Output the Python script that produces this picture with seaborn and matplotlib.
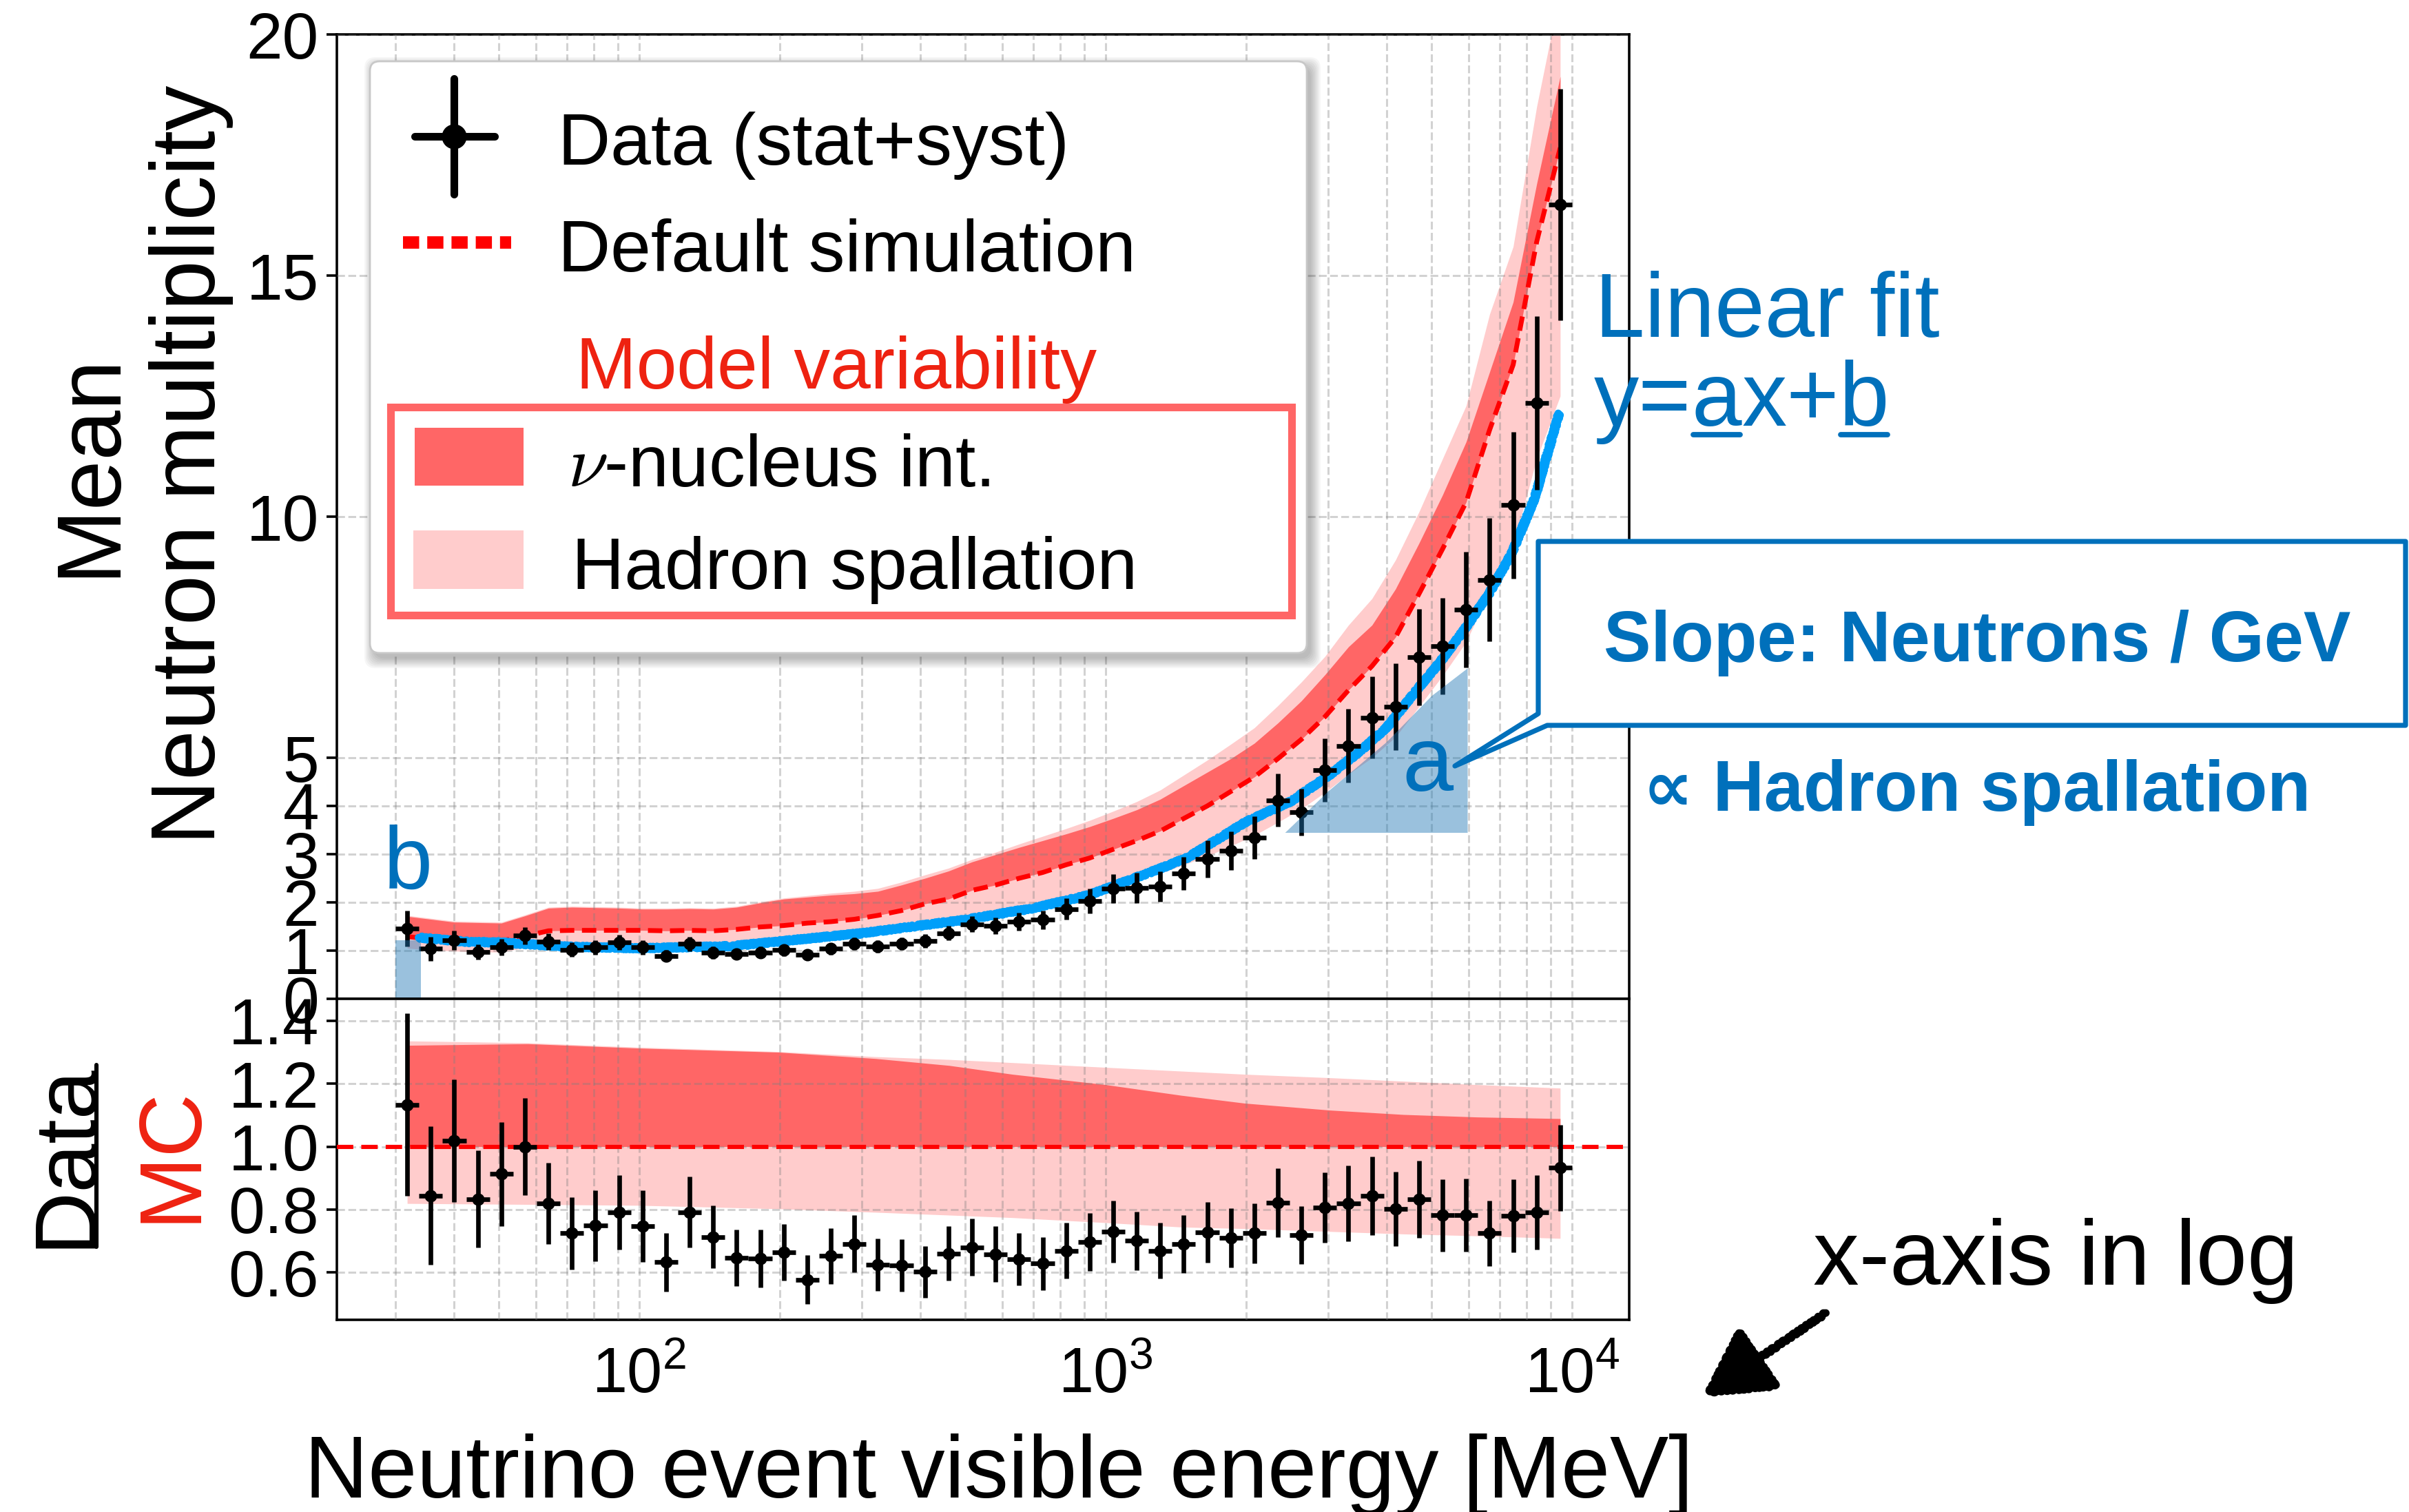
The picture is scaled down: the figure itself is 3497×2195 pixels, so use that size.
import matplotlib
matplotlib.use("Agg")
import matplotlib.pyplot as plt
import numpy as np
import seaborn as sns
from matplotlib.transforms import Affine2D
from matplotlib.patches import Rectangle, FancyBboxPatch, Polygon, FancyArrowPatch
from matplotlib.lines import Line2D
from matplotlib.ticker import FormatStrFormatter

# ---------------- data ----------------
bin_edges = [30.0, 33.70, 37.85, 42.52, 47.76, 53.65, 60.26, 67.69, 76.03, 85.40,
             95.93, 107.7, 121.0, 135.9, 152.6, 171.4, 192.6, 216.3, 242.9, 272.9,
             306.5, 344.3, 386.7, 434.4, 487.9, 548.0, 615.6, 691.4, 776.6, 872.0,
             979.2, 1100, 1236, 1388, 1559, 1751, 1966, 2209, 2481, 2786,
             3130, 3515, 3948, 4435, 4981, 5595, 6284, 7058, 7928, 8904, 10000]

data_mean = [1.46, 1.04, 1.22, 0.97, 1.07, 1.31, 1.19, 1.02, 1.07, 1.17,
             1.07, 0.89, 1.14, 0.96, 0.93, 0.96, 1.01, 0.91, 1.04, 1.14,
             1.09, 1.14, 1.20, 1.36, 1.55, 1.52, 1.60, 1.64, 1.86, 2.03,
             2.29, 2.30, 2.33, 2.60, 2.90, 3.07, 3.34, 4.12, 3.87, 4.74,
             5.25, 5.83, 6.06, 7.09, 7.31, 8.07, 8.69, 10.24, 12.36, 16.47]
data_err = [0.37, 0.25, 0.20, 0.16, 0.17, 0.18, 0.17, 0.15, 0.15, 0.16,
            0.15, 0.12, 0.15, 0.13, 0.12, 0.12, 0.12, 0.11, 0.12, 0.13,
            0.13, 0.13, 0.14, 0.15, 0.16, 0.17, 0.19, 0.19, 0.22, 0.26,
            0.30, 0.31, 0.32, 0.34, 0.38, 0.40, 0.44, 0.55, 0.49, 0.66,
            0.77, 0.85, 0.90, 1.00, 1.00, 1.20, 1.28, 1.52, 1.80, 2.40]

default_sim = [1.29, 1.24, 1.22, 1.19, 1.20, 1.30, 1.41, 1.42, 1.42, 1.42,
               1.42, 1.41, 1.42, 1.41, 1.44, 1.49, 1.52, 1.57, 1.60, 1.65,
               1.73, 1.83, 1.97, 2.07, 2.25, 2.36, 2.50, 2.62, 2.78, 2.92,
               3.10, 3.28, 3.48, 3.74, 4.00, 4.30, 4.60, 4.98, 5.38, 5.85,
               6.40, 6.90, 7.50, 8.40, 9.33, 10.30, 11.80, 13.15, 15.70, 17.65]
nu_upper = [1.71, 1.65, 1.59, 1.58, 1.57, 1.72, 1.88, 1.90, 1.89, 1.88,
            1.86, 1.86, 1.87, 1.86, 1.90, 1.99, 2.07, 2.11, 2.15, 2.18,
            2.23, 2.36, 2.50, 2.65, 2.84, 2.99, 3.14, 3.28, 3.42, 3.57,
            3.74, 3.92, 4.14, 4.42, 4.70, 4.98, 5.30, 5.72, 6.18, 6.72,
            7.30, 7.75, 8.50, 9.45, 10.45, 11.55, 13.00, 14.45, 16.90, 19.13]
spall_upper = [1.73, 1.67, 1.61, 1.60, 1.59, 1.74, 1.90, 1.92, 1.91, 1.90,
               1.88, 1.88, 1.89, 1.88, 1.92, 2.01, 2.09, 2.14, 2.19, 2.23,
               2.29, 2.42, 2.57, 2.71, 2.89, 3.04, 3.21, 3.37, 3.53, 3.70,
               3.89, 4.09, 4.33, 4.64, 4.95, 5.28, 5.62, 6.08, 6.57, 7.10,
               7.75, 8.30, 9.10, 10.10, 11.20, 12.30, 14.20, 15.60, 18.50, 20.90]
spall_lower = [1.05, 1.01, 0.99, 0.97, 0.97, 1.06, 1.14, 1.15, 1.15, 1.15,
               1.15, 1.14, 1.15, 1.14, 1.16, 1.19, 1.22, 1.26, 1.28, 1.31,
               1.37, 1.44, 1.54, 1.61, 1.74, 1.81, 1.91, 2.00, 2.11, 2.21,
               2.34, 2.46, 2.60, 2.78, 2.96, 3.17, 3.39, 3.66, 3.94, 4.28,
               4.66, 5.00, 5.43, 6.06, 6.70, 7.40, 8.45, 9.40, 11.20, 12.50]

ratio = [1.133, 0.844, 1.018, 0.833, 0.913, 1.0, 0.819, 0.724, 0.749, 0.791,
         0.747, 0.632, 0.791, 0.713, 0.647, 0.644, 0.663, 0.577, 0.652, 0.691,
         0.624, 0.622, 0.602, 0.66, 0.68, 0.658, 0.641, 0.628, 0.669, 0.697,
         0.73, 0.70, 0.669, 0.691, 0.727, 0.71, 0.724, 0.822, 0.719, 0.806,
         0.819, 0.844, 0.802, 0.833, 0.782, 0.782, 0.724, 0.78, 0.791, 0.933]
ratio_err = [0.29, 0.22, 0.195, 0.155, 0.165, 0.155, 0.13, 0.115, 0.113, 0.118,
             0.113, 0.093, 0.113, 0.10, 0.09, 0.091, 0.09, 0.077, 0.089, 0.09,
             0.084, 0.083, 0.082, 0.087, 0.09, 0.089, 0.083, 0.085, 0.088, 0.092,
             0.099, 0.094, 0.088, 0.092, 0.096, 0.094, 0.096, 0.11, 0.092, 0.112,
             0.12, 0.125, 0.119, 0.123, 0.115, 0.117, 0.104, 0.117, 0.119, 0.137]

ratio_band_energy = [31.8, 57.7, 100, 200, 321, 462, 631, 1000, 1453, 1987, 3020, 4346, 6255, 9434]
ratio_nu_upper = [1.322, 1.327, 1.313, 1.300, 1.280, 1.258, 1.230, 1.197, 1.163, 1.138, 1.116, 1.102, 1.094, 1.089]
ratio_spall_upper = [1.336, 1.330, 1.316, 1.302, 1.286, 1.277, 1.267, 1.252, 1.240, 1.230, 1.219, 1.208, 1.197, 1.186]
ratio_spall_lower = [0.819, 0.816, 0.813, 0.802, 0.791, 0.782, 0.774, 0.758, 0.744, 0.739, 0.730, 0.722, 0.716, 0.708]

fit_energy = [33.6, 43, 50, 71, 100, 157, 300, 500, 700, 920, 1300, 1500, 2000, 2500,
              3000, 3500, 4000, 4652, 5240, 5890, 6610, 7420, 8320, 8760, 9380]
fit_value = [1.27, 1.18, 1.17, 1.08, 1.05, 1.09, 1.36, 1.64, 1.88, 2.15, 2.69, 2.93, 3.67, 4.10,
             4.62, 5.12, 5.62, 6.41, 7.01, 7.67, 8.37, 9.23, 10.38, 11.14, 12.14]

slope_fill_energy = [2423, 3000, 4000, 5000, 5965]
slope_fill_top = [3.45, 4.31, 5.33, 6.29, 6.86]
slope_fill_base = 3.45
intercept_fill_energy = [30.0, 34.0]
intercept_fill_height = 1.21

main_yticks = [0, 1, 2, 3, 4, 5, 10, 15, 20]
ratio_yticks = [0.6, 0.8, 1.0, 1.2, 1.4]

# ---------------- style ----------------
W, H, DPI = 3498, 2195, 200
sns.set_theme(style="white")
plt.rcParams["font.family"] = ["Liberation Sans", "DejaVu Sans"]
for key in ["axes.edgecolor", "text.color", "axes.labelcolor", "xtick.color", "ytick.color"]:
    plt.rcParams[key] = "black"

DARK = "#FF6666"
LIGHT = "#FFCCCC"
ANN = "#0070BB"
FITC = "#009FFA"
MCRED = "#EE2211"

fig = plt.figure(figsize=(W / DPI, H / DPI), dpi=DPI)
PX = Affine2D().scale(1 / DPI, -1 / DPI).translate(0, H / DPI) + fig.dpi_scale_trans

ax = fig.add_axes([489 / W, 1 - 1450 / H, 1876 / W, 1400 / H])
axr = fig.add_axes([489 / W, 1 - 1916 / H, 1876 / W, 466 / H], sharex=ax)

edges = np.array(bin_edges)
centers = np.sqrt(edges[:-1] * edges[1:])
xerr = [centers - edges[:-1], edges[1:] - centers]

# ---------------- main panel ----------------
ax.fill_between(centers, spall_lower, spall_upper, color=LIGHT, lw=0, zorder=1)
ax.fill_between(centers, default_sim, nu_upper, color=DARK, lw=0, zorder=1.1)
sns.lineplot(x=centers, y=default_sim, ax=ax, color="red", lw=2.5, zorder=3,
             sort=False, estimator=None)
ax.lines[-1].set_dashes((3.0, 1.6))
ax.errorbar(centers, data_mean, yerr=data_err, xerr=xerr, fmt="o", color="black",
            ms=5.5, elinewidth=2.4, capsize=0, zorder=4)
sns.lineplot(x=fit_energy, y=fit_value, ax=ax, color=FITC, lw=3.8, zorder=3.6,
             sort=False, estimator=None)
ax.lines[-1].set_sketch_params(2.5, 6, 3)
sns.lineplot(x=fit_energy, y=fit_value, ax=ax, color=FITC, lw=1.8, zorder=3.7,
             sort=False, estimator=None)
ax.lines[-1].set_sketch_params(5.0, 4, 2)
ax.fill_between(slope_fill_energy, slope_fill_base, slope_fill_top, color="#1f77b4",
                alpha=0.45, lw=0, zorder=4.5)
ax.fill_between(intercept_fill_energy, 0, intercept_fill_height, color="#1f77b4",
                alpha=0.45, lw=0, zorder=4.5)

# ---------------- ratio panel ----------------
axr.fill_between(ratio_band_energy, ratio_spall_lower, ratio_spall_upper, color=LIGHT, lw=0, zorder=1)
axr.fill_between(ratio_band_energy, 1.0, ratio_nu_upper, color=DARK, lw=0, zorder=1.1)
ref = axr.axhline(1.0, color="red", lw=2.2, zorder=3)
ref.set_dashes((3.9, 1.9))
axr.errorbar(centers, ratio, yerr=ratio_err, xerr=xerr, fmt="o", color="black",
             ms=5.5, elinewidth=2.4, capsize=0, zorder=4)

# ---------------- axes cosmetics ----------------
ax.set_xscale("log")
ax.set_xlim(22.47, 13265)
ax.set_ylim(0, 20)
ax.set_yticks(main_yticks)
axr.set_ylim(0.449, 1.470)
axr.set_yticks(ratio_yticks)
axr.yaxis.set_major_formatter(FormatStrFormatter("%.1f"))

for a in (ax, axr):
    a.set_axisbelow(False)
    a.grid(True, which="both", axis="x", color="gray", alpha=0.35, ls="--", lw=1.1)
    a.grid(True, which="major", axis="y", color="gray", alpha=0.35, ls="--", lw=1.1)
    for s in a.spines.values():
        s.set_color("black")
        s.set_linewidth(1.3)
        s.set_visible(True)
    a.tick_params(axis="y", which="major", direction="out", length=5.4, width=1.3,
                  labelsize=34, pad=4, left=True, color="black", labelcolor="black")
    a.tick_params(axis="x", which="both", length=0, labelcolor="black")
ax.tick_params(axis="x", which="both", labelbottom=False)
axr.tick_params(axis="x", which="major", labelsize=33, pad=14)

ax.set_ylabel("Mean\nNeutron multiplicity", fontsize=47, linespacing=1.25, color="black")
ax.yaxis.set_label_coords(-0.080, 0.554)
axr.set_xlabel("Neutrino event visible energy [MeV]", fontsize=46, color="black")
axr.xaxis.set_label_coords(0.512, -0.355)

# ratio y label: Data / MC
fig.text(130, 1677, "Data", transform=PX, rotation=90, rotation_mode="anchor",
         ha="center", va="baseline", fontsize=46, color="black")
fig.add_artist(Line2D([140, 140], [1546, 1810], transform=PX, color="black", lw=2.2))
fig.text(283, 1676, "MC", transform=PX, rotation=90, rotation_mode="anchor",
         ha="center", va="baseline", fontsize=46, color=MCRED)

# ---------------- legend (custom) ----------------
for k in range(8):
    e = 2 * k
    fig.add_artist(FancyBboxPatch((543 - e, 97 - e), 1360 + 2 * e, 859 + 2 * e,
                                  boxstyle="round,pad=0,rounding_size=16", transform=PX,
                                  facecolor="black", alpha=0.035, lw=0, zorder=9))
fig.add_artist(FancyBboxPatch((537, 89), 1360, 859, boxstyle="round,pad=0,rounding_size=14",
                              transform=PX, facecolor="white", edgecolor="#c8c8c8", lw=1.0, zorder=10))
fig.add_artist(Rectangle((567, 591), 1308, 302, transform=PX, fill=False,
                         edgecolor=DARK, lw=4, zorder=11))
fig.add_artist(Line2D([659, 659], [114, 282], transform=PX, color="black", lw=4, zorder=11))
fig.add_artist(Line2D([602, 718], [198, 198], transform=PX, color="black", lw=4, zorder=11))
fig.add_artist(Line2D([659], [198], transform=PX, color="black", marker="o", ms=12, lw=0, zorder=11))
leg_line = Line2D([585, 742], [352, 352], transform=PX, color="red", lw=6.5, zorder=11)
leg_line.set_dashes((1.3, 0.65))
fig.add_artist(leg_line)
fig.add_artist(Rectangle((602, 621), 158, 84, transform=PX, facecolor=DARK, lw=0, zorder=11))
fig.add_artist(Rectangle((600, 770), 160, 85, transform=PX, facecolor=LIGHT, lw=0, zorder=11))
lt = dict(transform=PX, ha="left", va="baseline", fontsize=38, zorder=12)
fig.text(810, 239, "Data (stat+syst)", color="black", **lt)
fig.text(810, 394, "Default simulation", color="black", **lt)
fig.text(836, 564, "Model variability", color=MCRED, **lt)
fig.text(824, 706, r"$\nu$-nucleus int.", color="black", math_fontfamily="cm", **lt)
fig.text(830, 855, "Hadron spallation", color="black", **lt)

# ---------------- annotations ----------------
fig.text(2315, 489, "Linear fit", transform=PX, ha="left", va="baseline", fontsize=47, color=ANN, zorder=12)
renderer = fig.canvas.get_renderer()
xpos = 2314
for seg, ul in [("y=", False), ("a", True), ("x+", False), ("b", True)]:
    t = fig.text(xpos, 618, seg, transform=PX, ha="left", va="baseline", fontsize=47, color=ANN, zorder=12)
    w = t.get_window_extent(renderer=renderer).width
    if ul:
        fig.add_artist(Line2D([xpos + 2, xpos + w - 2], [631, 631], transform=PX, color=ANN, lw=2.8, zorder=12))
    xpos += w

callout = Polygon([(2233, 786), (3492, 786), (3492, 1053), (2246, 1053), (2112, 1112), (2233, 1036)],
                  closed=True, transform=PX, facecolor="white", edgecolor=ANN, lw=2.6,
                  joinstyle="round", zorder=12)
fig.add_artist(callout)
fig.text(2870, 960, "Slope: Neutrons / GeV", transform=PX, ha="center", va="baseline",
         fontsize=37, fontweight="bold", color=ANN, zorder=13)
fig.text(2385, 1177, "\u221d Hadron spallation", transform=PX, ha="left", va="baseline",
         fontsize=37, fontweight="bold", color=ANN, zorder=13)
fig.text(2072, 1148, "a", transform=PX, ha="center", va="baseline", fontsize=48, color=ANN, zorder=13)
fig.text(592, 1290, "b", transform=PX, ha="center", va="baseline", fontsize=46, color=ANN, zorder=13)

fig.text(2632, 1865, "x-axis in log", transform=PX, ha="left", va="baseline", fontsize=48, color="black", zorder=13)
arrow = FancyArrowPatch((2655, 1903), (2468, 2030), transform=PX, arrowstyle="-|>,head_length=1.0,head_width=0.55",
                        mutation_scale=30, color="black", lw=4, zorder=13)
arrow.set_sketch_params(2.0, 10, 3)
fig.add_artist(arrow)

fig.savefig("out.png", dpi=DPI)
